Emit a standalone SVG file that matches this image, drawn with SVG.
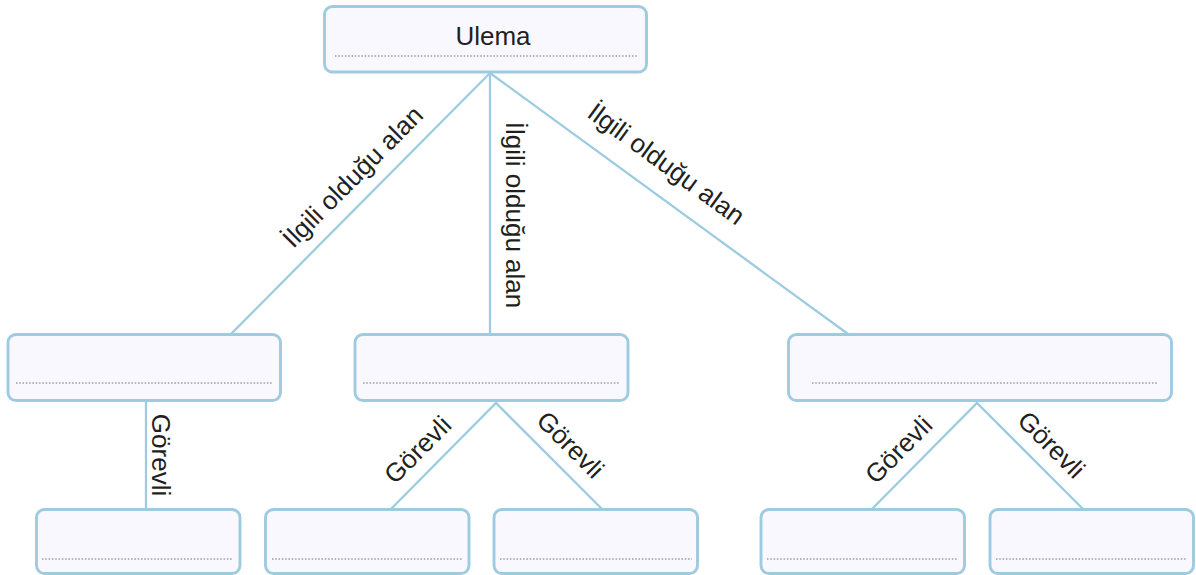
<svg xmlns="http://www.w3.org/2000/svg" width="1196" height="575" viewBox="0 0 1196 575">
<style>
.box{fill:#f9f8fe;stroke:#9ecbe0;stroke-width:2.9}
.dot{stroke:#9a9aa0;stroke-width:1.5;stroke-dasharray:1.5 1.8;fill:none}
.con{stroke:#9ecbe0;stroke-width:2.3;fill:none}
.lbl{font-family:"Liberation Sans",Arial,Helvetica,sans-serif;font-size:26px;fill:#231f20;text-anchor:middle}
</style>
<rect width="1196" height="575" fill="#ffffff"/>
<g id="connectors">
<line class="con" x1="490" y1="73" x2="231" y2="334"/>
<line class="con" x1="490" y1="73" x2="490" y2="334"/>
<line class="con" x1="490" y1="73" x2="848" y2="334"/>
<line class="con" x1="146" y1="401" x2="146" y2="509"/>
<polyline class="con" points="391,509 496,403 602,509"/>
<polyline class="con" points="872,509 977,403 1083,509"/>
<text class="lbl" transform="translate(359,183) rotate(-45.2)">İlgili olduğu alan</text>
<text class="lbl" transform="translate(506,215) rotate(90)">İlgili olduğu alan</text>
<text class="lbl" transform="translate(661,171) rotate(36.1)">İlgili olduğu alan</text>
<text class="lbl" transform="translate(152,455) rotate(90)">Görevli</text>
<text class="lbl" transform="translate(424,456) rotate(-45.3)">Görevli</text>
<text class="lbl" transform="translate(564,451) rotate(45)">Görevli</text>
<text class="lbl" transform="translate(905,456) rotate(-45.3)">Görevli</text>
<text class="lbl" transform="translate(1045,451) rotate(45)">Görevli</text>
</g>
<g id="ulema">
<rect class="box" x="324.5" y="6.5" width="322" height="65.5" rx="8"/>
<text class="lbl" x="493" y="45">Ulema</text>
<line class="dot" x1="335" y1="56" x2="637" y2="56"/>
</g>
<g id="alan1">
<rect class="box" x="8" y="334.5" width="272.5" height="66" rx="8"/>
<line class="dot" x1="16" y1="383" x2="272" y2="383"/>
</g>
<g id="alan2">
<rect class="box" x="355" y="334.5" width="273" height="66" rx="8"/>
<line class="dot" x1="363" y1="383" x2="620" y2="383"/>
</g>
<g id="alan3">
<rect class="box" x="788.5" y="334.5" width="383" height="66" rx="8"/>
<line class="dot" x1="812" y1="383" x2="1157" y2="383"/>
</g>
<g id="gorev1">
<rect class="box" x="36.5" y="509.5" width="203.5" height="64" rx="8"/>
<line class="dot" x1="42" y1="559" x2="233" y2="559"/>
</g>
<g id="gorev2">
<rect class="box" x="265.5" y="509.5" width="203.5" height="64" rx="8"/>
<line class="dot" x1="272" y1="559" x2="462" y2="559"/>
</g>
<g id="gorev3">
<rect class="box" x="494" y="509.5" width="203.5" height="64" rx="8"/>
<line class="dot" x1="500" y1="559" x2="692" y2="559"/>
</g>
<g id="gorev4">
<rect class="box" x="761" y="509.5" width="203.5" height="64" rx="8"/>
<line class="dot" x1="767" y1="559" x2="958" y2="559"/>
</g>
<g id="gorev5">
<rect class="box" x="990" y="509.5" width="203.5" height="64" rx="8"/>
<line class="dot" x1="996" y1="559" x2="1187" y2="559"/>
</g>
</svg>
